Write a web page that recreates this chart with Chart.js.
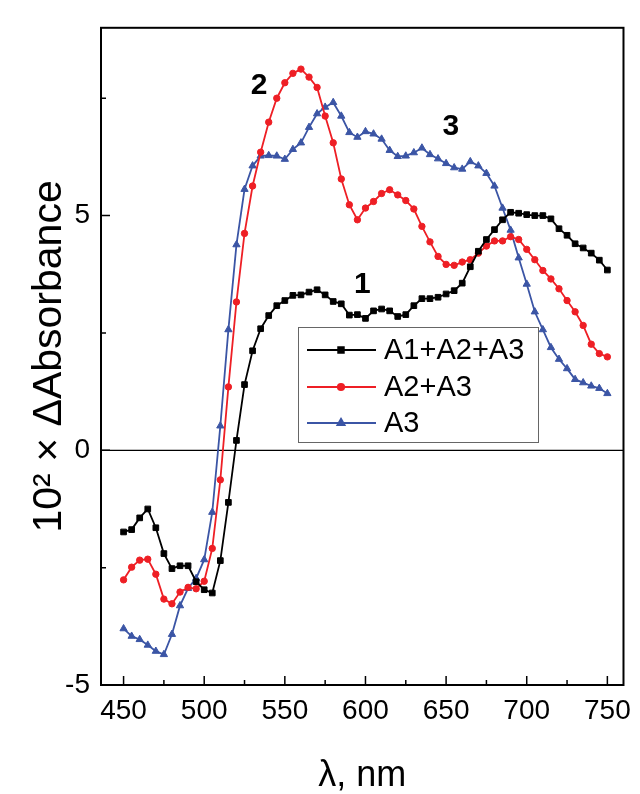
<!DOCTYPE html>
<html>
<head>
<meta charset="utf-8">
<title>Difference absorbance spectra</title>
<script src="https://cdn.jsdelivr.net/npm/chart.js@4"></script>
<style>
    html, body { margin: 0; padding: 0; background: #fff; }
    canvas { display: block; }
</style>
</head>
<body>
<canvas id="spectra" width="640" height="794"></canvas>
<script>
// wavelength, nm
const WAVELENGTHS = [
    450, 455, 460, 465, 470, 475, 480, 485, 490, 495,
    500, 505, 510, 515, 520, 525, 530, 535, 540, 545,
    550, 555, 560, 565, 570, 575, 580, 585, 590, 595,
    600, 605, 610, 615, 620, 625, 630, 635, 640, 645,
    650, 655, 660, 665, 670, 675, 680, 685, 690, 695,
    700, 705, 710, 715, 720, 725, 730, 735, 740, 745,
    750
];

// 10^2 x dAbsorbance
const SUM_A1_A2_A3 = [
    -1.74, -1.69, -1.44, -1.25, -1.65, -2.20, -2.52, -2.46, -2.46, -2.80,
    -2.97, -3.04, -2.35, -1.11, 0.21, 1.40, 2.12, 2.59, 2.87, 3.08,
    3.19, 3.30, 3.31, 3.37, 3.42, 3.31, 3.17, 3.12, 2.88, 2.89,
    2.81, 2.97, 3.01, 2.97, 2.85, 2.89, 3.08, 3.23, 3.23, 3.26,
    3.33, 3.40, 3.56, 3.91, 4.24, 4.49, 4.70, 4.91, 5.07, 5.05,
    5.02, 5.00, 5.00, 4.93, 4.72, 4.58, 4.40, 4.31, 4.20, 4.05,
    3.84
];

const SUM_A2_A3 = [
    -2.76, -2.49, -2.34, -2.32, -2.64, -3.17, -3.27, -3.02, -2.92, -2.95,
    -2.79, -2.09, -0.63, 1.35, 3.16, 4.62, 5.63, 6.35, 6.99, 7.50,
    7.83, 8.03, 8.12, 7.95, 7.73, 7.12, 6.55, 5.78, 5.23, 4.91,
    5.16, 5.30, 5.47, 5.55, 5.44, 5.32, 5.14, 4.77, 4.44, 4.13,
    3.96, 3.94, 4.01, 4.06, 4.20, 4.35, 4.46, 4.46, 4.55, 4.49,
    4.28, 4.06, 3.83, 3.65, 3.44, 3.19, 2.95, 2.66, 2.26, 2.06,
    1.99
];

const ONLY_A3 = [
    -3.80, -3.96, -4.03, -4.15, -4.28, -4.35, -3.92, -3.31, -2.94, -2.73,
    -2.33, -1.32, 0.52, 2.57, 4.38, 5.56, 6.06, 6.27, 6.28, 6.27,
    6.20, 6.41, 6.55, 6.88, 7.17, 7.31, 7.41, 7.12, 6.77, 6.67,
    6.79, 6.74, 6.63, 6.39, 6.26, 6.27, 6.34, 6.44, 6.30, 6.21,
    6.11, 6.02, 5.99, 6.15, 6.06, 5.90, 5.63, 5.16, 4.69, 4.10,
    3.54, 2.95, 2.57, 2.19, 1.94, 1.74, 1.51, 1.44, 1.37, 1.32,
    1.21
];

const SERIES_LABELS = ['A1+A2+A3', 'A2+A3', 'A3'];
const CURVE_NUMBERS = ['1', '2', '3'];

const X_TICKS = [450, 500, 550, 600, 650, 700, 750];
const X_MINOR_TICKS = [475, 525, 575, 625, 675, 725];
const Y_TICKS = [-5, 0, 5];
const Y_MINOR_TICKS = [-2.5, 2.5, 7.5];

const FONT = "'Liberation Sans', Arial, Helvetica, sans-serif";

function toPoints(values) {
    return WAVELENGTHS.map((x, i) => ({ x, y: values[i] }));
}

function series(label, values, color, pointStyle, radius) {
    return {
        label,
        data: toPoints(values),
        borderColor: color,
        backgroundColor: color,
        borderWidth: 1.8,
        pointStyle,
        pointRadius: radius,
        pointBorderWidth: 1,
        pointBackgroundColor: color,
        pointBorderColor: color,
        tension: 0,
        fill: false
    };
}

// frame, inward ticks, zero line, curve numbers and the boxed legend
const decorations = {
    id: 'decorations',
    beforeDatasetsDraw(chart) {
        const { ctx, chartArea: a, scales: { y } } = chart;
        const y0 = y.getPixelForValue(0);
        ctx.save();
        ctx.strokeStyle = '#000';
        ctx.lineWidth = 1.2;
        ctx.beginPath();
        ctx.moveTo(a.left, y0);
        ctx.lineTo(a.right, y0);
        ctx.stroke();
        ctx.restore();
    },
    afterDatasetsDraw(chart) {
        const { ctx, chartArea: a, scales: { x, y } } = chart;
        ctx.save();
        ctx.strokeStyle = '#000';
        ctx.lineWidth = 1.5;

        ctx.beginPath();
        X_TICKS.forEach(v => { const px = x.getPixelForValue(v); ctx.moveTo(px, a.bottom); ctx.lineTo(px, a.bottom - 9); });
        X_MINOR_TICKS.forEach(v => { const px = x.getPixelForValue(v); ctx.moveTo(px, a.bottom); ctx.lineTo(px, a.bottom - 5); });
        Y_TICKS.forEach(v => { const py = y.getPixelForValue(v); ctx.moveTo(a.left, py); ctx.lineTo(a.left + 9, py); });
        Y_MINOR_TICKS.forEach(v => { const py = y.getPixelForValue(v); ctx.moveTo(a.left, py); ctx.lineTo(a.left + 5, py); });
        ctx.stroke();

        ctx.lineWidth = 2;
        ctx.strokeRect(a.left, a.top, a.right - a.left, a.bottom - a.top);

        // curve numbers
        const spots = [[598, 3.52], [534, 7.77], [653, 6.9]];
        ctx.fillStyle = '#000';
        ctx.font = 'bold 30px ' + FONT;
        ctx.textAlign = 'center';
        ctx.textBaseline = 'middle';
        CURVE_NUMBERS.forEach((t, i) => {
            ctx.fillText(t, x.getPixelForValue(spots[i][0]), y.getPixelForValue(spots[i][1]));
        });
        ctx.restore();
    },
    afterDraw(chart) {
        const { ctx } = chart;
        const box = { left: 298, top: 327, width: 240, height: 115 };
        const rows = [350, 387, 423];
        ctx.save();
        ctx.fillStyle = '#fff';
        ctx.fillRect(box.left, box.top, box.width, box.height);
        ctx.strokeStyle = '#666';
        ctx.lineWidth = 1;
        ctx.strokeRect(box.left + 0.5, box.top + 0.5, box.width, box.height);

        chart.data.datasets.forEach((ds, i) => {
            const ry = rows[i];
            ctx.strokeStyle = ds.borderColor;
            ctx.lineWidth = ds.borderWidth;
            ctx.beginPath();
            ctx.moveTo(307, ry);
            ctx.lineTo(376, ry);
            ctx.stroke();
            ctx.fillStyle = ds.pointBackgroundColor;
            Chart.helpers.drawPoint(ctx, {
                pointStyle: ds.pointStyle,
                radius: ds.pointRadius,
                rotation: 0,
                borderWidth: 1
            }, 341, ry);
            ctx.fillStyle = '#000';
            ctx.font = '29px ' + FONT;
            ctx.textAlign = 'left';
            ctx.textBaseline = 'middle';
            ctx.fillText(ds.label, 384, ry + 1);
        });
        ctx.restore();
    }
};

new Chart(document.getElementById('spectra'), {
    type: 'line',
    data: {
        datasets: [
            series(SERIES_LABELS[0], SUM_A1_A2_A3, '#000000', 'rect', 4),
            series(SERIES_LABELS[1], SUM_A2_A3, '#ee1f25', 'circle', 3.2),
            series(SERIES_LABELS[2], ONLY_A3, '#3b55a5', 'triangle', 4.2)
        ]
    },
    options: {
        responsive: false,
        animation: false,
        layout: { padding: { top: 14, right: 9, left: 0, bottom: 0 } },
        plugins: {
            legend: { display: false },
            tooltip: { enabled: false }
        },
        scales: {
            x: {
                type: 'linear',
                min: 436,
                max: 760,
                afterFit(scale) { scale.height = 109; },
                afterBuildTicks(scale) { scale.ticks = X_TICKS.map(v => ({ value: v })); },
                grid: { display: false, drawTicks: false },
                border: { display: false },
                ticks: {
                    color: '#000',
                    font: { family: FONT, size: 28 },
                    padding: 9,
                    maxRotation: 0,
                    autoSkip: false
                },
                title: {
                    display: true,
                    text: 'λ, nm',
                    color: '#000',
                    font: { family: FONT, size: 36, lineHeight: 1 },
                    padding: { top: 0, bottom: 0 }
                }
            },
            y: {
                type: 'linear',
                min: -5,
                max: 9,
                afterFit(scale) { scale.width = 101; },
                afterBuildTicks(scale) { scale.ticks = Y_TICKS.map(v => ({ value: v })); },
                grid: { display: false, drawTicks: false },
                border: { display: false },
                ticks: {
                    color: '#000',
                    font: { family: FONT, size: 28 },
                    padding: 11,
                    autoSkip: false
                },
                title: {
                    display: true,
                    text: '10² × ΔAbsorbance',
                    color: '#000',
                    font: { family: FONT, size: 41, lineHeight: 1 },
                    padding: { top: 29, bottom: 0 }
                }
            }
        }
    },
    plugins: [decorations]
});
</script>
</body>
</html>
